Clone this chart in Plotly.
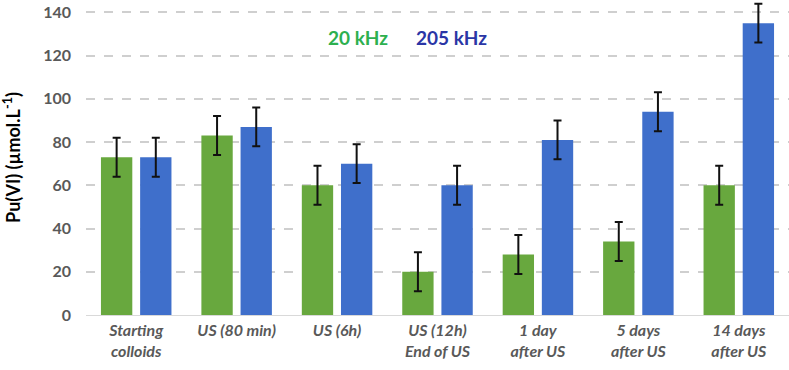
import plotly.graph_objects as go

categories = ["Starting<br>colloids", "US (80 min)", "US (6h)", "US (12h)<br>End of US",
              "1 day<br>after US", "5 days<br>after US", "14 days<br>after US"]
green_20khz = [73, 83, 60, 20, 28, 34, 60]
blue_205khz = [73, 87, 70, 60, 81, 94, 135]
err_20khz = [9, 9, 9, 9, 9, 9, 9]
err_205khz = [9, 9, 9, 9, 9, 9, 9]
y_ticks = [0, 20, 40, 60, 80, 100, 120, 140]

fig = go.Figure()
fig.add_trace(go.Bar(
    x=categories, y=green_20khz, name="20 kHz",
    marker=dict(color="#68a83e", line=dict(width=0)),
    error_y=dict(type="data", array=err_20khz, color="#111111", thickness=2, width=4),
))
fig.add_trace(go.Bar(
    x=categories, y=blue_205khz, name="205 kHz",
    marker=dict(color="#3f6fcb", line=dict(width=0)),
    error_y=dict(type="data", array=err_205khz, color="#111111", thickness=2, width=4),
))

fig.update_layout(
    width=789, height=370,
    margin=dict(l=86, r=0, t=0, b=55),
    paper_bgcolor="white", plot_bgcolor="white",
    barmode="group", bargap=0.22, bargroupgap=0.2,
    showlegend=False,
    font=dict(family="Lato", color="#595959"),
    xaxis=dict(
        tickfont=dict(family="Lato", size=16, color="#595959", style="italic", weight="bold"),
        showgrid=False, showline=False, ticks="", ticklabelstandoff=4,
    ),
    yaxis=dict(
        range=[0, 145.7], tickvals=y_ticks,
        tickfont=dict(family="Lato", size=16, color="#595959", weight="bold"),
        showgrid=True, gridcolor="#cfcfcf", gridwidth=2, griddash="dash",
        zeroline=True, zerolinecolor="#d9d9d9", zerolinewidth=1,
        ticklabelstandoff=14,
        title=dict(text="Pu(VI) (µmol.L<sup>-1</sup>)", standoff=18,
                   font=dict(family="Lato", size=18, color="black", weight="bold")),
    ),
    annotations=[
        dict(text="<b>20 kHz</b>", x=358, y=0.925, xref="paper", yref="paper",
             showarrow=False, font=dict(family="Lato", size=19, color="#2db04f")),
        dict(text="<b>205 kHz</b>", x=451, y=0.925, xref="paper", yref="paper",
             showarrow=False, font=dict(family="Lato", size=19, color="#2a36a6")),
    ],
)
# convert annotation pixel x to paper coordinates
plot_w = 789 - 86
for a in fig.layout.annotations:
    a.x = (a.x - 86) / plot_w

fig.write_html("out.html")
